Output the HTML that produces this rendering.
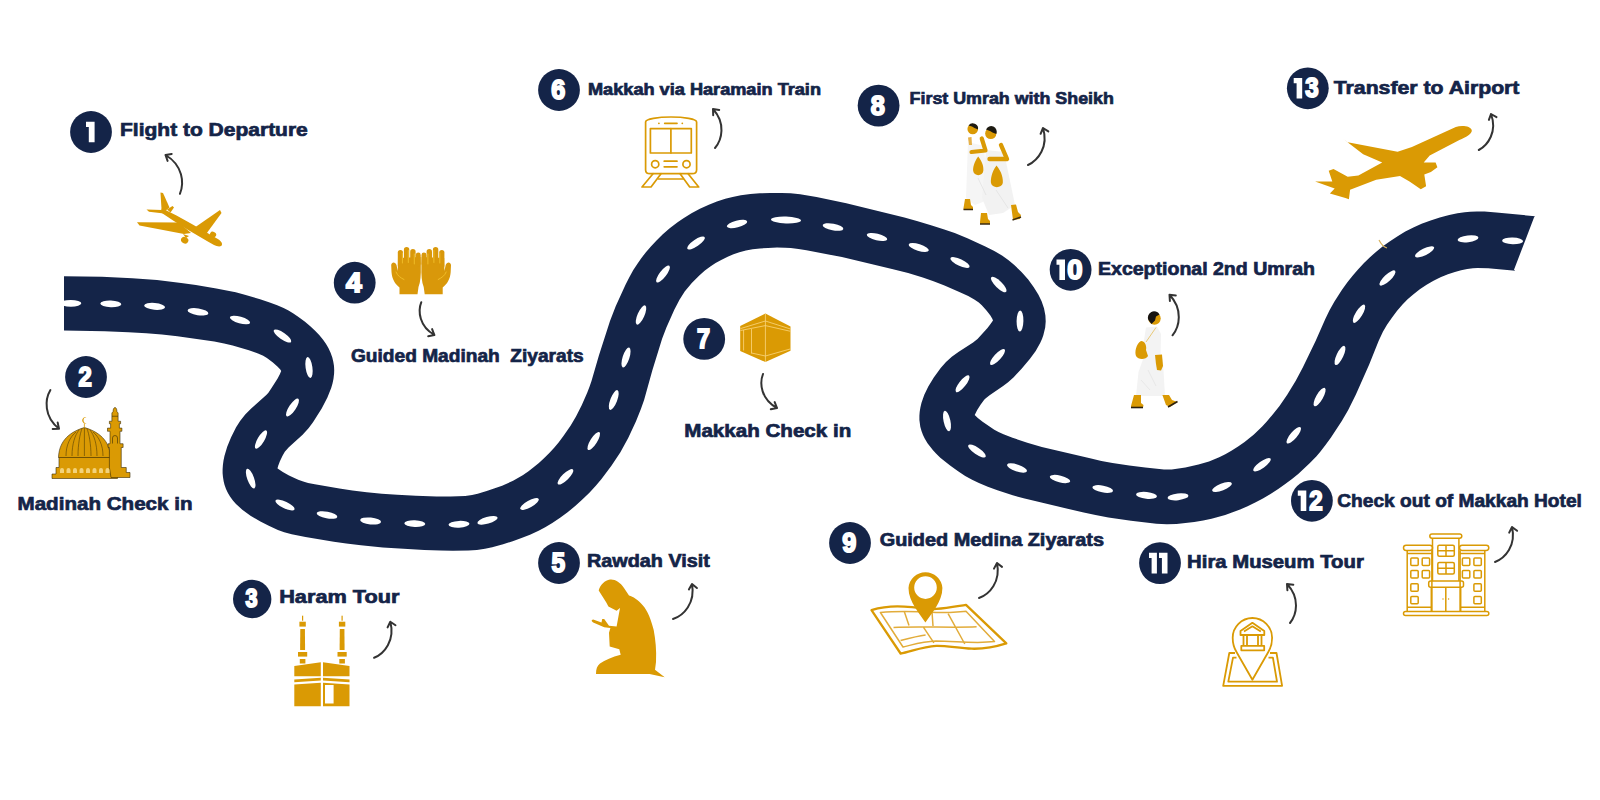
<!DOCTYPE html>
<html><head><meta charset="utf-8"><style>
html,body{margin:0;padding:0;background:#fff;overflow:hidden;width:1600px;height:800px;}
svg{display:block;font-family:"Liberation Sans",sans-serif;}
</style></head><body>
<svg width="1600" height="800" viewBox="0 0 1600 800">
<path d="M64.0 330.6 L104.8 331.3 L128.5 332.2 L146.3 333.3 L161.9 334.6 L177.4 336.3 L214.3 341.6 L224.1 343.5 L232.7 345.6 L248.9 350.3 L258.0 353.5 L263.2 355.8 L266.9 357.9 L272.6 362.2 L277.4 366.4 L280.1 369.3 L281.2 371.0 L279.7 374.6 L277.6 378.6 L271.7 387.8 L268.4 392.7 L266.3 395.0 L251.2 408.5 L245.2 414.6 L240.1 420.9 L236.1 427.3 L231.1 437.3 L227.2 446.8 L224.5 455.8 L223.5 460.6 L222.9 464.9 L222.6 469.5 L222.6 473.3 L223.0 477.3 L223.7 481.4 L224.5 484.7 L226.0 488.9 L227.8 492.7 L230.0 496.4 L233.1 500.7 L236.0 503.9 L242.3 509.8 L250.5 515.7 L260.4 521.6 L268.8 525.8 L277.9 529.9 L284.2 532.2 L291.7 534.3 L305.5 537.1 L333.8 541.7 L346.3 543.5 L360.9 545.2 L382.8 547.4 L399.5 548.6 L424.3 549.9 L440.6 550.6 L452.8 550.8 L468.5 550.5 L476.9 550.0 L485.0 548.8 L492.2 547.2 L503.1 544.2 L512.7 541.2 L521.5 538.1 L530.0 534.7 L538.6 530.8 L545.2 527.3 L552.3 523.0 L560.1 517.8 L567.6 512.2 L574.9 506.3 L581.8 500.1 L589.4 492.7 L595.8 485.7 L601.5 478.9 L611.6 465.6 L620.4 452.2 L628.2 437.9 L635.9 421.5 L640.9 409.1 L644.1 399.9 L652.3 370.4 L662.1 338.8 L666.5 327.2 L674.3 309.8 L679.5 299.7 L684.7 291.5 L691.8 282.9 L699.3 275.4 L704.9 270.6 L710.7 266.2 L715.6 263.1 L721.2 259.9 L727.7 256.7 L733.5 254.3 L739.4 252.3 L745.9 250.6 L752.6 249.3 L760.0 248.4 L767.9 247.9 L777.0 247.6 L785.1 247.7 L790.8 248.1 L798.5 248.9 L806.5 250.2 L841.9 257.1 L892.0 268.9 L908.1 273.1 L922.8 277.6 L933.5 281.2 L944.5 285.4 L959.9 292.2 L968.2 296.1 L974.3 299.4 L978.8 302.5 L981.8 305.3 L986.7 310.8 L990.4 315.6 L992.3 318.8 L993.0 320.4 L990.9 323.6 L987.5 327.9 L977.5 339.0 L973.1 342.5 L958.4 351.9 L951.8 356.8 L946.0 362.0 L940.7 368.1 L933.8 377.5 L928.3 386.5 L924.3 394.8 L921.5 402.8 L920.4 407.6 L919.7 411.8 L919.4 415.8 L919.4 420.0 L920.3 426.8 L921.5 431.1 L923.0 435.1 L924.7 438.6 L927.5 443.3 L932.8 450.1 L936.0 453.5 L940.3 457.7 L950.1 465.5 L958.1 471.3 L965.2 475.9 L972.1 479.8 L978.9 483.1 L987.8 486.7 L997.4 490.2 L1012.7 495.2 L1023.6 498.3 L1083.7 512.6 L1095.5 515.1 L1108.4 517.4 L1131.0 520.8 L1156.4 523.7 L1166.9 524.3 L1176.5 523.9 L1194.3 521.9 L1203.2 520.4 L1211.5 518.7 L1225.2 515.0 L1240.1 509.6 L1247.6 506.3 L1255.7 502.3 L1262.9 498.4 L1270.5 493.9 L1278.2 489.0 L1284.9 484.3 L1292.0 478.9 L1298.2 473.9 L1309.9 463.0 L1316.5 456.2 L1320.1 451.9 L1325.3 445.3 L1330.8 437.8 L1341.8 421.0 L1348.2 410.1 L1355.9 394.5 L1369.3 364.3 L1378.6 341.1 L1382.9 331.7 L1387.0 324.8 L1391.9 317.7 L1397.1 310.8 L1402.5 304.5 L1407.6 299.3 L1413.2 294.4 L1419.8 289.3 L1426.6 284.7 L1433.5 280.7 L1440.5 277.3 L1447.9 274.3 L1454.9 272.0 L1461.1 270.3 L1467.2 269.0 L1472.9 268.2 L1477.5 268.0 L1488.2 268.3 L1515.3 270.7 L1514.0 269.8 L1534.0 217.5 L1534.9 216.2 L1496.3 212.4 L1484.5 211.6 L1476.9 211.4 L1470.2 211.7 L1464.7 212.2 L1457.5 213.3 L1449.2 215.0 L1439.8 217.4 L1430.6 220.4 L1421.6 223.8 L1413.9 227.2 L1405.3 231.6 L1398.0 235.9 L1390.0 241.2 L1383.2 246.1 L1376.8 251.2 L1369.7 257.4 L1364.0 263.0 L1358.0 269.4 L1352.6 275.7 L1347.4 282.2 L1342.0 289.8 L1334.3 301.7 L1329.4 310.5 L1325.3 319.0 L1315.6 341.0 L1302.8 367.6 L1295.6 381.1 L1287.2 394.7 L1279.5 405.9 L1273.3 413.8 L1266.8 421.5 L1262.2 426.5 L1253.9 434.5 L1244.6 442.0 L1238.1 446.5 L1231.4 450.7 L1225.3 454.2 L1219.2 457.2 L1209.0 461.4 L1198.5 464.6 L1185.4 467.4 L1171.7 469.4 L1164.0 469.4 L1145.2 467.5 L1129.2 465.5 L1112.5 462.9 L1101.4 460.9 L1091.1 458.6 L1041.8 446.9 L1027.3 442.8 L1012.5 437.7 L1003.5 434.3 L998.5 432.0 L994.3 429.7 L982.6 421.7 L977.8 418.0 L974.7 415.0 L977.2 410.0 L980.7 404.5 L984.2 399.8 L985.5 398.5 L989.6 395.3 L1003.1 386.1 L1008.1 382.3 L1013.7 377.3 L1021.6 368.7 L1029.8 359.0 L1035.7 350.9 L1040.3 342.8 L1042.1 338.8 L1043.4 334.9 L1045.2 327.6 L1045.7 321.4 L1045.4 315.5 L1044.0 308.3 L1041.6 301.3 L1038.3 294.5 L1033.6 286.9 L1028.2 279.6 L1021.5 272.0 L1014.0 264.7 L1008.6 260.2 L1002.0 255.6 L994.3 251.1 L984.8 246.3 L967.4 238.3 L954.7 233.1 L944.3 229.4 L931.8 225.4 L917.7 221.2 L904.4 217.6 L846.3 203.3 L816.5 197.0 L800.1 194.3 L790.6 193.3 L781.4 192.9 L770.2 192.9 L759.8 193.3 L750.4 194.0 L740.9 195.3 L732.6 196.9 L725.3 198.8 L716.9 201.5 L708.8 204.7 L699.9 208.8 L691.5 213.3 L683.5 218.2 L677.6 222.2 L669.7 228.3 L662.8 234.3 L656.5 240.4 L650.9 246.4 L645.9 252.2 L640.9 258.7 L637.3 263.9 L633.3 270.1 L629.2 277.4 L625.5 284.7 L615.7 306.3 L610.0 321.0 L598.9 355.6 L591.5 381.0 L589.6 386.5 L587.2 392.7 L581.7 405.3 L576.0 416.5 L570.7 425.5 L563.6 435.8 L558.8 442.2 L554.4 447.5 L549.8 452.5 L544.5 457.8 L538.9 463.0 L533.6 467.3 L528.2 471.4 L522.7 475.2 L513.1 480.8 L502.1 485.7 L486.7 491.1 L477.7 493.8 L472.1 495.1 L465.3 495.9 L450.7 496.5 L436.4 496.4 L415.8 495.7 L397.2 494.8 L381.8 493.8 L366.7 492.3 L352.4 490.5 L339.4 488.5 L314.8 484.2 L308.1 482.9 L303.2 481.6 L298.2 479.8 L289.0 475.4 L282.8 472.0 L277.6 468.5 L277.5 468.2 L278.2 465.7 L279.9 461.3 L282.4 456.1 L284.8 451.7 L288.8 447.3 L302.6 434.7 L308.5 428.3 L313.0 422.3 L321.7 408.5 L327.4 397.6 L331.2 388.1 L332.5 383.6 L333.5 378.7 L334.1 373.6 L334.2 369.9 L334.0 365.9 L333.3 361.7 L332.3 357.6 L330.6 352.7 L328.4 348.1 L325.9 343.8 L323.1 339.8 L319.2 335.0 L315.1 330.7 L310.0 325.9 L304.7 321.6 L298.5 317.0 L293.0 313.3 L288.5 310.6 L283.6 308.1 L277.2 305.3 L269.7 302.5 L260.1 299.3 L244.8 294.7 L235.7 292.3 L216.3 288.4 L195.9 285.0 L181.2 282.9 L157.0 280.0 L132.3 278.2 L101.9 276.8 L64.0 276.2 L64.0 330.6Z" fill="#142448"/>
<g fill="#fff"><ellipse cx="70.8" cy="303.3" rx="10.5" ry="3.4" transform="rotate(0.4 70.8 303.3)"/><ellipse cx="110.8" cy="303.9" rx="10.5" ry="3.4" transform="rotate(2.1 110.8 303.9)"/><ellipse cx="154.6" cy="306.4" rx="10.5" ry="3.4" transform="rotate(5.2 154.6 306.4)"/><ellipse cx="198" cy="311.8" rx="10.5" ry="3.4" transform="rotate(9.0 198 311.8)"/><ellipse cx="240" cy="320" rx="10.5" ry="3.4" transform="rotate(16.0 240 320)"/><ellipse cx="282.5" cy="336" rx="10.5" ry="3.4" transform="rotate(34.5 282.5 336)"/><ellipse cx="309" cy="367.5" rx="10.5" ry="3.4" transform="rotate(82.0 309 367.5)"/><ellipse cx="292.5" cy="407.5" rx="10.5" ry="3.4" transform="rotate(123.7 292.5 407.5)"/><ellipse cx="261" cy="439.5" rx="10.5" ry="3.4" transform="rotate(120.5 261 439.5)"/><ellipse cx="250.7" cy="478.6" rx="10.5" ry="3.4" transform="rotate(69.9 250.7 478.6)"/><ellipse cx="285" cy="505" rx="10.5" ry="3.4" transform="rotate(25.5 285 505)"/><ellipse cx="327" cy="515" rx="10.5" ry="3.4" transform="rotate(10.6 327 515)"/><ellipse cx="370.6" cy="521" rx="10.5" ry="3.4" transform="rotate(5.7 370.6 521)"/><ellipse cx="414.8" cy="523.7" rx="10.5" ry="3.4" transform="rotate(2.1 414.8 523.7)"/><ellipse cx="459" cy="524.3" rx="10.5" ry="3.4" transform="rotate(-2.7 459 524.3)"/><ellipse cx="487.5" cy="520.3" rx="10.5" ry="3.4" transform="rotate(-16.1 487.5 520.3)"/><ellipse cx="529.5" cy="504" rx="10.5" ry="3.4" transform="rotate(-29.1 529.5 504)"/><ellipse cx="565.5" cy="476.8" rx="10.5" ry="3.4" transform="rotate(-44.4 565.5 476.8)"/><ellipse cx="593.75" cy="441" rx="10.5" ry="3.4" transform="rotate(-57.9 593.75 441)"/><ellipse cx="613.75" cy="400" rx="10.5" ry="3.4" transform="rotate(-68.9 613.75 400)"/><ellipse cx="626" cy="357.5" rx="10.5" ry="3.4" transform="rotate(-72.2 626 357.5)"/><ellipse cx="641" cy="315" rx="10.5" ry="3.4" transform="rotate(-66.1 641 315)"/><ellipse cx="663" cy="274" rx="10.5" ry="3.4" transform="rotate(-52.6 663 274)"/><ellipse cx="696" cy="243" rx="10.5" ry="3.4" transform="rotate(-34.0 696 243)"/><ellipse cx="737" cy="224" rx="10.5" ry="3.4" transform="rotate(-14.3 737 224)"/><ellipse cx="786" cy="220" rx="15" ry="3.4" transform="rotate(1.8 786 220)"/><ellipse cx="833" cy="227" rx="10.5" ry="3.4" transform="rotate(10.6 833 227)"/><ellipse cx="877" cy="237" rx="10.5" ry="3.4" transform="rotate(13.4 877 237)"/><ellipse cx="918.75" cy="247.5" rx="10.5" ry="3.4" transform="rotate(17.1 918.75 247.5)"/><ellipse cx="960" cy="262.5" rx="10.5" ry="3.4" transform="rotate(24.8 960 262.5)"/><ellipse cx="998.75" cy="284.5" rx="10.5" ry="3.4" transform="rotate(44.3 998.75 284.5)"/><ellipse cx="1020" cy="321" rx="10.5" ry="3.4" transform="rotate(91.0 1020 321)"/><ellipse cx="997.5" cy="357" rx="10.5" ry="3.4" transform="rotate(132.5 997.5 357)"/><ellipse cx="962.5" cy="383.75" rx="10.5" ry="3.4" transform="rotate(128.3 962.5 383.75)"/><ellipse cx="947" cy="421" rx="10.5" ry="3.4" transform="rotate(77.8 947 421)"/><ellipse cx="977" cy="451" rx="10.5" ry="3.4" transform="rotate(33.9 977 451)"/><ellipse cx="1017" cy="468" rx="10.5" ry="3.4" transform="rotate(18.6 1017 468)"/><ellipse cx="1060" cy="479" rx="10.5" ry="3.4" transform="rotate(13.8 1060 479)"/><ellipse cx="1102.7" cy="489" rx="10.5" ry="3.4" transform="rotate(10.7 1102.7 489)"/><ellipse cx="1146.5" cy="495.4" rx="10.5" ry="3.4" transform="rotate(5.9 1146.5 495.4)"/><ellipse cx="1178" cy="496.8" rx="10.5" ry="3.4" transform="rotate(-6.3 1178 496.8)"/><ellipse cx="1222" cy="487" rx="10.5" ry="3.4" transform="rotate(-20.9 1222 487)"/><ellipse cx="1262" cy="464.7" rx="10.5" ry="3.4" transform="rotate(-35.8 1262 464.7)"/><ellipse cx="1293.75" cy="435.3" rx="10.5" ry="3.4" transform="rotate(-49.6 1293.75 435.3)"/><ellipse cx="1319.6" cy="397" rx="10.5" ry="3.4" transform="rotate(-59.9 1319.6 397)"/><ellipse cx="1340" cy="355.4" rx="10.5" ry="3.4" transform="rotate(-64.7 1340 355.4)"/><ellipse cx="1359" cy="313.75" rx="10.5" ry="3.4" transform="rotate(-58.5 1359 313.75)"/><ellipse cx="1387.5" cy="278" rx="10.5" ry="3.4" transform="rotate(-43.3 1387.5 278)"/><ellipse cx="1424.6" cy="251.9" rx="10.5" ry="3.4" transform="rotate(-26.0 1424.6 251.9)"/><ellipse cx="1468" cy="238.8" rx="10.5" ry="3.4" transform="rotate(-7.1 1468 238.8)"/><ellipse cx="1512.6" cy="240.9" rx="10.5" ry="3.4" transform="rotate(1.4 1512.6 240.9)"/></g>
<text x="120" y="136" font-size="18.9" textLength="187.8" lengthAdjust="spacingAndGlyphs" fill="#142448" stroke="#142448" stroke-width="0.7" font-weight="bold">Flight to Departure</text>
<text x="17.5" y="510.2" font-size="19.0" textLength="175.0" lengthAdjust="spacingAndGlyphs" fill="#142448" stroke="#142448" stroke-width="0.7" font-weight="bold">Madinah Check in</text>
<text x="279.2" y="602.9" font-size="19.2" textLength="120.3" lengthAdjust="spacingAndGlyphs" fill="#142448" stroke="#142448" stroke-width="0.7" font-weight="bold">Haram Tour</text>
<text x="351" y="361.9" font-size="18.6" textLength="232.7" lengthAdjust="spacingAndGlyphs" fill="#142448" stroke="#142448" stroke-width="0.7" font-weight="bold">Guided Madinah  Ziyarats</text>
<text x="587" y="566.7" font-size="18.6" textLength="122.9" lengthAdjust="spacingAndGlyphs" fill="#142448" stroke="#142448" stroke-width="0.7" font-weight="bold">Rawdah Visit</text>
<text x="588" y="94.75" font-size="16.4" textLength="233.0" lengthAdjust="spacingAndGlyphs" fill="#142448" stroke="#142448" stroke-width="0.7" font-weight="bold">Makkah via Haramain Train</text>
<text x="684.25" y="436.7" font-size="18.6" textLength="167.0" lengthAdjust="spacingAndGlyphs" fill="#142448" stroke="#142448" stroke-width="0.7" font-weight="bold">Makkah Check in</text>
<text x="909.6" y="104.25" font-size="17.0" textLength="204.3" lengthAdjust="spacingAndGlyphs" fill="#142448" stroke="#142448" stroke-width="0.7" font-weight="bold">First Umrah with Sheikh</text>
<text x="879.75" y="545.7" font-size="17.9" textLength="224.2" lengthAdjust="spacingAndGlyphs" fill="#142448" stroke="#142448" stroke-width="0.7" font-weight="bold">Guided Medina Ziyarats</text>
<text x="1098" y="274.7" font-size="18.3" textLength="217.0" lengthAdjust="spacingAndGlyphs" fill="#142448" stroke="#142448" stroke-width="0.7" font-weight="bold">Exceptional 2nd Umrah</text>
<text x="1187.1" y="568.4" font-size="18.5" textLength="176.7" lengthAdjust="spacingAndGlyphs" fill="#142448" stroke="#142448" stroke-width="0.7" font-weight="bold">Hira Museum Tour</text>
<text x="1337.3" y="506.9" font-size="18.8" textLength="244.6" lengthAdjust="spacingAndGlyphs" fill="#142448" stroke="#142448" stroke-width="0.7" font-weight="bold">Check out of Makkah Hotel</text>
<text x="1333.75" y="93.5" font-size="19.0" textLength="185.7" lengthAdjust="spacingAndGlyphs" fill="#142448" stroke="#142448" stroke-width="0.7" font-weight="bold">Transfer to Airport</text>
<circle cx="91" cy="132" r="20.9" fill="#142448"/>
<path d="M86.0 121.7 L94.6 121.7 L94.6 142.3 L88.8 142.3 L88.8 126.9 L86.0 126.9 Z" fill="#fff"/>
<circle cx="86" cy="377" r="20.9" fill="#142448"/>
<text x="78.5" y="385.9" font-size="27.3" fill="#fff" stroke="#fff" stroke-width="1.9" font-weight="bold" textLength="13.3" lengthAdjust="spacingAndGlyphs">2</text>
<circle cx="252.2" cy="599" r="19.2" fill="#142448"/>
<text x="245.4" y="607.2" font-size="25.1" fill="#fff" stroke="#fff" stroke-width="1.9" font-weight="bold" textLength="12.0" lengthAdjust="spacingAndGlyphs">3</text>
<circle cx="354.7" cy="282.7" r="20.9" fill="#142448"/>
<text x="346.1" y="291.6" font-size="27.3" fill="#fff" stroke="#fff" stroke-width="1.9" font-weight="bold" textLength="15.7" lengthAdjust="spacingAndGlyphs">4</text>
<circle cx="559" cy="563" r="20.9" fill="#142448"/>
<text x="551.4" y="571.9" font-size="27.3" fill="#fff" stroke="#fff" stroke-width="1.9" font-weight="bold" textLength="13.6" lengthAdjust="spacingAndGlyphs">5</text>
<circle cx="559" cy="90" r="20.9" fill="#142448"/>
<text x="551.2" y="98.9" font-size="27.3" fill="#fff" stroke="#fff" stroke-width="1.9" font-weight="bold" textLength="14.0" lengthAdjust="spacingAndGlyphs">6</text>
<circle cx="704.2" cy="338.9" r="20.9" fill="#142448"/>
<text x="696.9" y="347.8" font-size="27.3" fill="#fff" stroke="#fff" stroke-width="1.9" font-weight="bold" textLength="13.0" lengthAdjust="spacingAndGlyphs">7</text>
<circle cx="878.6" cy="105.6" r="20.9" fill="#142448"/>
<text x="870.8" y="114.5" font-size="27.3" fill="#fff" stroke="#fff" stroke-width="1.9" font-weight="bold" textLength="14.1" lengthAdjust="spacingAndGlyphs">8</text>
<circle cx="850" cy="543" r="20.9" fill="#142448"/>
<text x="842.2" y="551.9" font-size="27.3" fill="#fff" stroke="#fff" stroke-width="1.9" font-weight="bold" textLength="14.0" lengthAdjust="spacingAndGlyphs">9</text>
<circle cx="1070.6" cy="269.8" r="20.9" fill="#142448"/>
<path d="M1056.5 259.5 L1065.0 259.5 L1065.0 280.1 L1059.4 280.1 L1059.4 264.7 L1056.5 264.7 Z" fill="#fff"/>
<text x="1067.2" y="278.7" font-size="27.3" fill="#fff" stroke="#fff" stroke-width="1.9" font-weight="bold" textLength="15.3" lengthAdjust="spacingAndGlyphs">0</text>
<circle cx="1160" cy="563.1" r="20.9" fill="#142448"/>
<path d="M1149.0 552.8 L1156.9 552.8 L1156.9 573.4 L1151.6 573.4 L1151.6 558.0 L1149.0 558.0 Z" fill="#fff"/>
<path d="M1159.0 552.8 L1167.5 552.8 L1167.5 573.4 L1161.9 573.4 L1161.9 558.0 L1159.0 558.0 Z" fill="#fff"/>
<circle cx="1311.9" cy="500.8" r="20.9" fill="#142448"/>
<path d="M1297.8 490.5 L1306.3 490.5 L1306.3 511.1 L1300.7 511.1 L1300.7 495.7 L1297.8 495.7 Z" fill="#fff"/>
<text x="1309.3" y="509.7" font-size="27.3" fill="#fff" stroke="#fff" stroke-width="1.9" font-weight="bold" textLength="13.4" lengthAdjust="spacingAndGlyphs">2</text>
<circle cx="1307.8" cy="88.3" r="20.9" fill="#142448"/>
<path d="M1293.7 78.0 L1302.2 78.0 L1302.2 98.6 L1296.6 98.6 L1296.6 83.2 L1293.7 83.2 Z" fill="#fff"/>
<text x="1305.2" y="97.2" font-size="27.3" fill="#fff" stroke="#fff" stroke-width="1.9" font-weight="bold" textLength="13.4" lengthAdjust="spacingAndGlyphs">3</text>
<path d="M1379 240 C1381 244 1383 247 1387 248" fill="none" stroke="#d9b25a" stroke-width="1.2"/>
<g fill="none" stroke="#333" stroke-width="2" stroke-linecap="round" stroke-linejoin="round"><path d="M179.9 193.8 C184.4 183.3 183.0 165.3 165.5 155.0 M167.6 160.9 L165.5 155.0 L171.7 154.0"/><path d="M50.4 390.1 C44.8 399.5 43.7 416.8 59.0 428.8 M57.7 422.6 L59.0 428.8 L52.7 429.0"/><path d="M374.1 657.8 C384.2 653.7 395.3 640.4 390.3 621.7 M387.6 627.4 L390.3 621.7 L395.5 625.3"/><path d="M421.3 302.2 C417.7 311.2 419.3 326.6 434.4 335.0 M432.1 329.1 L434.4 335.0 L428.2 336.2"/><path d="M673.0 619.0 C683.4 615.6 695.6 603.2 692.0 584.0 M688.9 589.5 L692.0 584.0 L696.9 588.0"/><path d="M715.0 148.0 C722.0 139.8 725.9 123.2 713.0 109.0 M713.2 115.3 L713.0 109.0 L719.2 109.9"/><path d="M763.0 374.0 C759.3 383.5 761.1 399.4 777.0 408.0 M774.7 402.1 L777.0 408.0 L770.8 409.3"/><path d="M1028.0 165.0 C1038.0 160.4 1048.8 146.7 1043.0 128.0 M1040.6 133.8 L1043.0 128.0 L1048.3 131.4"/><path d="M979.0 598.0 C989.2 594.4 1001.0 581.9 997.0 563.0 M994.0 568.6 L997.0 563.0 L1002.0 566.9"/><path d="M1172.5 335.3 C1179.6 326.6 1183.2 309.2 1169.5 294.8 M1169.9 301.0 L1169.5 294.8 L1175.8 295.5"/><path d="M1290.0 623.0 C1296.8 614.6 1300.2 597.9 1287.0 584.0 M1287.4 590.3 L1287.0 584.0 L1293.3 584.7"/><path d="M1495.0 562.0 C1505.1 558.2 1516.4 545.6 1512.0 527.0 M1509.2 532.6 L1512.0 527.0 L1517.1 530.8"/><path d="M1478.8 150.0 C1488.0 145.1 1497.5 131.5 1491.0 114.0 M1488.9 119.9 L1491.0 114.0 L1496.5 117.1"/></g>
<g fill="#da9a04">
<path d="M162 208.3 L176.5 215.6 L191.8 223.9 L211.8 235.6 C218 239 222.5 241.5 222 244.5 C221.5 247.5 217 246.5 214 245 L208.2 241.8 L188.2 230.1 L173.5 220.8 L160 211.7 Z"/>
<path d="M160.5 192.4 L163 193 L169.5 207.5 L164.5 211.5 L161.5 209 Z"/>
<path d="M146.5 209.5 L162 210 L164 213.5 L149 211.8 Z"/>
<path d="M167 209.5 L172.5 206 L174 207.5 L170.5 212.5 Z"/>
<path d="M179 222.5 L137 222.3 L139.5 225.5 L184 234 L191 233 Z"/><path d="M183 234 L186 238 L189 236 Z"/>
<path d="M195.5 227 L220 210 L221.5 213 L206.5 233.5 Z"/>
<ellipse cx="184.7" cy="240.2" rx="3.8" ry="3.2" transform="rotate(30 184.7 240.2)"/>
<ellipse cx="213.1" cy="234.5" rx="3.2" ry="2.7" transform="rotate(30 213.1 234.5)"/>
</g>
<g fill="#da9a04" stroke="#3b2c05" stroke-width="0.6" stroke-linejoin="round">
<path d="M52 478.5 L52 474 L56 474 L56 467.5 L59 467.5 L59 457 L111 457 L111 467.5 L115 467.5 L115 474 L117.5 474 L117.5 478.5 Z"/>
<path d="M58.5 457.5 C59 444 66 433 84.4 427.5 C103 433 110 444 110.5 457.5 Z"/>
<path d="M109.4 467.5 L109.4 447.5 L108.1 447.5 L108.1 443.75 L110 443.75 L110 431.25 L107.5 431.25 L107.5 428.1 L110.6 428.1 L110.6 423.75 L109.4 423.75 L109.4 421.25 L111.9 421.25 L111.9 413 L113.1 411.5 C113.1 409 114 407.5 115 407.5 C116 407.5 116.9 409 116.9 411.5 L118.1 413 L118.1 421.25 L120.6 421.25 L120.6 423.75 L119.4 423.75 L119.4 428.1 L121.9 428.1 L121.9 431.25 L120 431.25 L120 443.75 L123.1 443.75 L123.1 447.5 L121.25 447.5 L121.25 467.5 L126.25 467.5 L126.25 472.5 L130 472.5 L130 477.5 L111 477.5 Z"/>
<path d="M112.5 443.5 L112.5 438 A2.5 2.5 0 0 1 117.5 438 L117.5 443.5" fill="none"/>
<path d="M112 416.25 L118 416.25" fill="none"/>
</g>
<g fill="none" stroke="#3b2c05" stroke-width="0.5">
<path d="M66 456 C66 445 70 437 76 432 M72 456 C72 444 75 435 79 430 M78 456 C78 444 80 434 82 428.5 M84.4 456 L84.4 428 M91 456 C91 444 89 434 87 428.5 M97 456 C97 444 94 435 90 430 M103 456 C103 445 99 437 93 432"/>

</g>
<g fill="#f3d27a" stroke="none">
<path d="M60 473 l0-3 a2 2 0 0 1 4 0 l0 3z M66.5 473 l0-3 a2 2 0 0 1 4 0 l0 3z M73 473 l0-3 a2 2 0 0 1 4 0 l0 3z M79.5 473 l0-3 a2 2 0 0 1 4 0 l0 3z M86 473 l0-3 a2 2 0 0 1 4 0 l0 3z M92.5 473 l0-3 a2 2 0 0 1 4 0 l0 3z M99 473 l0-3 a2 2 0 0 1 4 0 l0 3z M105.5 473 l0-3 a2 2 0 0 1 4 0 l0 3z"/>
</g>
<path d="M86.5 417.3 A3.2 3.2 0 1 0 86.5 423.3 A2.6 2.6 0 1 1 86.5 417.3 Z" fill="#da9a04"/>
<line x1="84.4" y1="423.5" x2="84.4" y2="427.5" stroke="#da9a04" stroke-width="0.8"/>

<g fill="#da9a04"><rect x="302.0" y="615.7" width="1.2" height="5" /><rect x="299.40000000000003" y="621.7" width="6.4" height="4.9"/><path d="M300.3 628.9 L304.90000000000003 628.9 L305.1 650 L300.1 650 Z"/><rect x="298.0" y="652" width="9.2" height="4.6"/><rect x="299.8" y="659" width="5.6" height="4.5"/><rect x="341.5" y="615.7" width="1.2" height="5" /><rect x="338.90000000000003" y="621.7" width="6.4" height="4.9"/><path d="M339.8 628.9 L344.40000000000003 628.9 L344.6 650 L339.6 650 Z"/><rect x="337.5" y="652" width="9.2" height="4.6"/><rect x="339.3" y="659" width="5.6" height="4.5"/>
<path d="M294.3 666 L320.8 662.3 L320.8 676.3 L294.3 676.3 Z"/>
<path d="M323 662.3 L349.5 666 L349.5 676.3 L323 676.3 Z"/>
<path d="M294.3 679.5 L320.8 677.8 L320.8 680.6 L294.3 682.2 Z"/>
<path d="M323 677.8 L349.5 679.5 L349.5 682.2 L323 680.6 Z"/>
<path d="M294.3 684.6 L320.8 682.8 L320.8 706.3 L294.3 706.3 Z"/>
<path d="M323 682.8 L349.5 684.6 L349.5 706.3 L323 706.3 Z M325 685 L325 703.5 L333.6 703.5 L333.6 685 Z" fill-rule="evenodd"/>
</g>
<g fill="#d9980a"><path d="M399.5 294.2 L417.5 294.2 L418.5 287 C420.5 282 421 275 420.8 266 L420.5 257 L398 258 L397.8 271 L396.5 265 C395.5 261.5 391.5 261.5 391.2 265 L391.5 272 C392 279 395 284 399.5 287.5 Z"/>
<rect x="397.8" y="250" width="5.2" height="18" rx="2.6"/>
<rect x="403.9" y="247" width="5.4" height="18" rx="2.7"/>
<rect x="410.2" y="249" width="5.4" height="16" rx="2.7"/>
<rect x="415.8" y="252.5" width="4.9" height="14" rx="2.45"/><g transform="translate(842.2 0) scale(-1 1)"><path d="M399.5 294.2 L417.5 294.2 L418.5 287 C420.5 282 421 275 420.8 266 L420.5 257 L398 258 L397.8 271 L396.5 265 C395.5 261.5 391.5 261.5 391.2 265 L391.5 272 C392 279 395 284 399.5 287.5 Z"/>
<rect x="397.8" y="250" width="5.2" height="18" rx="2.6"/>
<rect x="403.9" y="247" width="5.4" height="18" rx="2.7"/>
<rect x="410.2" y="249" width="5.4" height="16" rx="2.7"/>
<rect x="415.8" y="252.5" width="4.9" height="14" rx="2.45"/></g></g><g fill="none" stroke="#f2bf2a" stroke-width="0.9" stroke-linecap="round"><path d="M402.4 253 L402.4 263 M408.3 250.5 L408.3 262.5 M414.3 254 L414.3 264 M396 272 C397.5 276 401 278 404 279.5"/><path transform="translate(842.2 0) scale(-1 1)" d="M402.4 253 L402.4 263 M408.3 250.5 L408.3 262.5 M414.3 254 L414.3 264 M396 272 C397.5 276 401 278 404 279.5"/></g>
<path fill="#da9a04" d="M598.7 590.5 C600 585 605 580 610 579.5 C615 579 620 582 624 588 L629 595.6 C633 596.5 638 600 642.7 605.2 C648 611 651 620 653.7 630 C655.5 640 656.6 650 656 662 L655 669.8 L664.7 677.3 L649.6 673.9 L596 673.9 C596 669 597 666 600 663.5 C605 660 612 657 620.7 654.7 L619.3 649.2 L609.7 646.4 L609 632.7 L610.4 627.9 L604.2 627.2 L593.2 622.4 C591.5 621.5 591 620 593.2 619.6 L601.5 622.4 L602.2 619 L604.2 619 L609 625.8 L616.6 626.5 L620 608 L616.6 610.7 L608.4 606.6 L606.3 602.5 Z"/>
<g fill="none" stroke="#da9a04" stroke-width="1.7" stroke-linejoin="round" stroke-linecap="round">
<path d="M645.6 170 L645.6 122 C645.6 119 658 117 671 117 C684 117 696.6 119 696.6 122 L696.6 170 C696.6 172.5 694.5 173.7 692 173.7 L650 173.7 C647.5 173.7 645.6 172.5 645.6 170 Z"/>
<rect x="650.4" y="128.6" width="40.9" height="24.4"/>
<line x1="670.9" y1="128.6" x2="670.9" y2="153"/>
<line x1="664.7" y1="123.3" x2="677" y2="123.3"/>
<circle cx="655.2" cy="164.2" r="3.6"/><circle cx="686.5" cy="164.2" r="3.6"/>
<line x1="664.2" y1="161.2" x2="677" y2="161.2"/><line x1="664.2" y1="166.8" x2="677" y2="166.8"/>
<path d="M653 173.7 L642 187 L651 187 L661 173.7"/>
<path d="M680.1 173.7 L689.7 187 L698.7 187 L688.1 173.7"/>
<line x1="658.5" y1="179" x2="683" y2="179"/>
</g>
<circle cx="658.9" cy="123.3" r="0.9" fill="#da9a04"/><circle cx="682.3" cy="123.3" r="0.9" fill="#da9a04"/>
<path fill="#da9a04" d="M765.4 313.6 L790.5 326.4 L790.5 350.7 L765.4 362 L740.2 351.1 L740.2 326 Z"/>
<g fill="none" stroke="#fbd780" stroke-width="0.8">
<path d="M765.4 313.6 L765.4 362"/>
<path d="M740.5 328.6 L765.4 321 L790.5 329"/>
<path d="M740.5 330.5 L765.4 325.6 L790.5 331.3"/>
<path d="M743.6 330 L743.6 350.5 M751.5 329 L751.5 353.5"/>
<path d="M751.5 353 L765.4 356 L790.5 348.9"/>
</g>
<g>
<path fill="#f5f5f5" d="M968 142 L984 146 L988 200 L975 205 L966 198 Z"/>
<path fill="#f2f2f2" d="M986 150 L1004 152 L1015 205 L1003 213 L989 215 L982 198 Z"/>
<path fill="none" stroke="#dcdcdc" stroke-width="0.6" d="M978 178 L986 195 M996 190 L1008 208"/>
<circle cx="972.75" cy="129" r="5.3" fill="#da9a04"/>
<path d="M968.5 125.5 A5.3 5.3 0 0 1 978 129.5 L974.5 128 L972 126.5 Z" fill="#1d1a12"/>
<path d="M968 137.5 L971.5 137 L972 145 L969 145 Z" fill="#e6b24a"/>
<path fill="none" stroke="#da9a04" stroke-width="4.2" stroke-linecap="round" stroke-linejoin="round" d="M981.75 138.5 L985.5 150.5 L971.5 152"/>
<path fill="#da9a04" d="M978.2 156.5 C974 162 972.8 168 973.2 171 C973.8 176.5 982.8 176.5 983.3 171 C983.8 167 982.5 162 978.2 156.5 Z"/>
<path fill="#da9a04" d="M963.5 208 L965 199 L970 199 L971 205 L973 207 L973 209.5 L963.5 209.5 Z"/>
<path d="M963.5 209.5 L973 209.5" stroke="#3a2a10" stroke-width="1.5"/>
<circle cx="990.75" cy="133.5" r="5.6" fill="#da9a04"/>
<path d="M986 129.5 A5.6 5.6 0 0 1 996.3 134 L992.5 132.5 L990 131 Z" fill="#1d1a12"/>
<path fill="none" stroke="#da9a04" stroke-width="4.4" stroke-linecap="round" stroke-linejoin="round" d="M1001 145 L1007 159 L989.5 159"/>
<path fill="#da9a04" d="M996.5 165.5 C991.5 172 990.5 180 991 183 C991.8 188.5 1002 188.5 1002.8 183 C1003.3 179 1002 172 996.5 165.5 Z"/>
<path fill="#da9a04" d="M980 222 L981 213 L987 213 L988 219 L990 221 L990 224 L980 224 Z"/>
<path d="M980 224 L990 224" stroke="#3a2a10" stroke-width="1.5"/>
<path fill="#da9a04" d="M1011 205 L1016 204.5 L1018 212 L1021 215 L1020 219 L1013 220 Z"/>
<path d="M1012.5 220 L1021 217" stroke="#3a2a10" stroke-width="1.5"/>
</g>
<g>
<path fill="#f3f3f3" d="M1146 327.5 L1157 326.5 L1161 334 L1160.5 356 L1163 362 L1165 396 L1136 396 L1138.5 372 L1143.5 358 L1144 340 Z"/>
<path fill="none" stroke="#e2e2e2" stroke-width="0.7" d="M1141 380 L1150 390 M1148 370 L1156 386"/>
<path fill="none" stroke="#e8c46a" stroke-width="0.9" d="M1156 327.5 L1146 342"/>
<circle cx="1154.5" cy="318.5" r="6.2" fill="#da9a04"/>
<path d="M1148.4 320 A6.2 6.2 0 0 1 1159.5 314.5 L1156 316.5 L1155 320.5 L1151.5 324 Z" fill="#161310"/>
<path fill="#da9a04" d="M1141 341 C1136 344 1134.5 352 1136 356 C1138 360 1146 360 1148 356 L1146 350 C1147 346 1145 341 1141 341 Z"/>
<path fill="#da9a04" d="M1155 355 L1162 354.5 L1163 366 L1161 370.5 L1157 370 L1156 364 Z"/>
<path fill="#da9a04" d="M1131 406 L1134 395 L1141 395 L1141 403 L1143.5 405 L1143 407.8 L1131 407.8 Z"/>
<path d="M1131 407.5 L1143 407.5" stroke="#2a2010" stroke-width="1.6"/>
<path fill="#da9a04" d="M1162.4 395 L1169 395 L1172 400 L1177.5 402 L1170 407 L1166 405 Z"/>
<path d="M1168 407 L1177.5 401.5" stroke="#2a2010" stroke-width="1.6"/>
</g>
<g fill="none" stroke="#da9a04" stroke-linejoin="round">
<path stroke-width="2.3" d="M871.5 610.1 C885 606 895 606 904.2 606.6 C920 607.5 930 609.5 936.3 608.9 C948 608 958 606 966 604.8 L1006.3 643.4 C995 647 983 649 971.9 648.7 C958 648 946 645.5 936.3 645.8 C922 646.5 910 652 900.6 653.5 Z"/>
<path stroke-width="1.5" stroke="#e2ac3a" d="M880.4 612.5 C900 610.5 920 611.5 936 612.5 C948 613 958 611.8 966 611.3 L994.5 641.6 C975 644 955 641 936 641 C922 641.5 912 645 903 647 Z"/>
<path stroke-width="1.5" stroke="#e2ac3a" d="M893.5 627.4 C920 626 950 628 976.6 626.8 M904.2 611.3 L909 625.6 M948.1 613.7 L964.8 644 M923.2 626.8 L933.9 642.8 M900.6 640.4 C910 638 918 636 925.6 635 M932 611.5 L933 626"/>
</g>
<path fill="#da9a04" d="M925.4 622.5 C920 614 908.5 602 908.5 588 A17 17 0 0 1 942.4 588 C942.4 602 931 614 925.4 622.5 Z M925.5 576.3 A11.3 11.3 0 1 0 925.5 598.9 A11.3 11.3 0 1 0 925.5 576.3 Z" fill-rule="evenodd"/>
<g fill="none" stroke="#da9a04" stroke-width="1.8" stroke-linejoin="round">
<path d="M1235 653 L1229.3 653 L1223.2 685.8 L1282.1 685.8 L1276.5 653 L1270 653"/>
<path d="M1236.5 657.6 L1233 657.6 L1228.3 681.7 L1277 681.7 L1272.9 657.6 L1268.5 657.6"/>
<path d="M1252.4 679.7 L1236.5 652 C1233.5 647 1232.7 642 1232.7 637.7 A19.7 19.7 0 0 1 1272.1 637.7 C1272.1 642 1271.3 647 1268.3 652 Z"/>
<path d="M1240.5 635 L1240.5 631 L1252.4 622.8 L1264.3 631 L1264.3 635 Z"/><path d="M1244 631.5 L1252.4 626.3 L1260.8 631.5"/>
<path d="M1243.5 634 L1243.5 645.5 M1247 634 L1247 645.5 M1258 634 L1258 645.5 M1261.5 634 L1261.5 645.5"/>
<rect x="1241.3" y="645.9" width="22.9" height="4.4"/>
</g>
<g fill="none" stroke="#da9a04" stroke-width="1.5" stroke-linejoin="round">
<rect x="1403.5" y="611.4" width="85.3" height="4" rx="2"/>
<rect x="1403.5" y="545.2" width="29" height="5.2" rx="2.6"/>
<rect x="1459.5" y="545.2" width="29.3" height="5.2" rx="2.6"/>
<path d="M1407.2 550.4 L1407.2 611.4 M1431.9 550.4 L1431.9 611.4 M1407.2 553.5 L1432 553.5 M1407.2 607.3 L1431.3 607.3"/>
<path d="M1460.1 550.4 L1460.1 611.4 M1484.8 550.4 L1484.8 611.4 M1460 553.5 L1484.8 553.5 M1460.7 607.3 L1484.8 607.3"/>
<rect x="1429.8" y="533.9" width="32" height="4.4" rx="2.2"/>
<path d="M1432.5 538.3 L1432.5 580.9 M1458.9 538.3 L1458.9 580.9"/>
<rect x="1437.8" y="545.3" width="16.5" height="11" rx="1.5"/>
<path d="M1446 545.3 L1446 556.3 M1437.8 550.8 L1454.3 550.8"/>
<rect x="1437.8" y="562.6" width="16.5" height="11.4" rx="1.5"/>
<path d="M1446 562.6 L1446 574 M1437.8 568.3 L1454.3 568.3"/>
<rect x="1428.7" y="581" width="34.8" height="6.2" rx="2"/>
<path d="M1431.3 587.2 L1431.3 611.4 M1460.7 587.2 L1460.7 611.4 M1445.8 587.2 L1445.8 611.4"/>
<rect x="1410.8" y="558" width="7.4" height="7.4" rx="1"/><rect x="1422.2" y="558" width="7.4" height="7.4" rx="1"/><rect x="1410.8" y="570.6" width="7.4" height="7.4" rx="1"/><rect x="1422.2" y="570.6" width="7.4" height="7.4" rx="1"/><rect x="1410.8" y="583.8" width="7.4" height="7.4" rx="1"/><rect x="1410.8" y="596.4" width="7.4" height="7.4" rx="1"/><rect x="1462.4" y="558" width="7.4" height="7.4" rx="1"/><rect x="1473.9" y="558" width="7.4" height="7.4" rx="1"/><rect x="1462.4" y="570.6" width="7.4" height="7.4" rx="1"/><rect x="1473.9" y="570.6" width="7.4" height="7.4" rx="1"/><rect x="1473.9" y="583.8" width="7.4" height="7.4" rx="1"/><rect x="1473.9" y="596.4" width="7.4" height="7.4" rx="1"/>
</g>
<circle cx="1443" cy="599" r="0.7" fill="#da9a04"/><circle cx="1448.6" cy="599" r="0.7" fill="#da9a04"/>
<path fill="#da9a04" d="M1471.8 130.4 C1472 134 1466 137 1459.4 139.9 L1429.7 155.4 L1423.7 162.5 L1435.6 162.5 L1437.4 167.2 L1430.9 172 L1424.3 174.4 L1426.1 186.2 L1420.8 189.2 L1409.5 181.5 L1400 176.1 L1376.2 179.7 L1350.1 189.8 L1348.9 199.3 L1345.4 198.1 L1329.9 193.4 L1334.7 188.6 L1315.1 181.5 L1332.3 181.5 L1328.7 170.8 L1333.5 169 L1347.7 176.7 L1358.4 175.6 L1382.2 162.5 L1363.2 154.2 L1343 138.7 L1347.7 142.3 L1397.6 151.8 L1411.9 147.1 L1455.8 126.9 C1462 125 1471 126 1471.8 130.4 Z"/>
</svg></body></html>
